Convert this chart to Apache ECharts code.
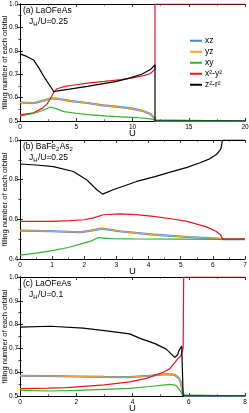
<!DOCTYPE html>
<html>
<head>
<meta charset="utf-8">
<script src="https://cdn.jsdelivr.net/npm/echarts@6/dist/echarts.min.js"></script>
<style>html,body{margin:0;padding:0;background:#fff}#c{width:249px;height:413px}</style>
</head>
<body>
<div id="c"></div>
<script>
// ---------- data (U, filling) ----------
const names = ['xz', 'yz', 'xy', 'x²-y²', 'z²-r²'];
const colors = ['#3f86e6', '#f5a52e', '#2db52d', '#e3191c', '#000000'];

// panel (a) LaOFeAs, JH/U=0.25
const a_xz = [[0,0.579],[1.2,0.576],[2,0.586],[2.8,0.597],[3.2,0.596],[4.4,0.586],[6,0.577],[7.4,0.567],[9,0.559],[10,0.553],[11,0.542],[11.6,0.53],[12,0.51],[12,0.5],[20,0.5]];
const a_yz = [[0,0.579],[1.2,0.576],[2,0.586],[2.8,0.597],[3.2,0.596],[4.4,0.586],[6,0.577],[7.4,0.567],[9,0.559],[10,0.553],[11,0.542],[11.6,0.53],[12,0.51],[12,0.5],[20,0.5]];
const a_xy = [[0,0.522],[1.2,0.532],[2,0.545],[2.7,0.56],[3.2,0.553],[3.9,0.54],[5,0.533],[6,0.527],[7.5,0.522],[9,0.518],[10.5,0.514],[11.6,0.509],[12,0.505],[12,0.5],[20,0.5]];
const a_x2y2 = [[0,0.526],[1.2,0.535],[2,0.555],[2.4,0.572],[2.7,0.595],[3,0.622],[3.3,0.638],[4,0.648],[5,0.655],[6,0.662],[7.5,0.669],[9,0.677],[10,0.684],[11,0.694],[11.6,0.703],[12,0.722],[12,1.0],[20,1.0]];
const a_z2r2 = [[0,0.787],[0.6,0.776],[1.2,0.761],[1.7,0.725],[2.2,0.684],[2.6,0.655],[3,0.626],[3.5,0.63],[4.4,0.636],[6,0.648],[7.4,0.66],[8.5,0.668],[9.8,0.684],[10.8,0.7],[11.6,0.72],[12,0.74],[12,0.5],[20,0.5]];

// panel (b) BaFe2As2, JH/U=0.25
const b_xz = [[0,0.543],[1,0.54],[1.87,0.535],[2.2,0.543],[2.55,0.553],[3.1,0.54],[4.15,0.523],[5.2,0.511],[6,0.504],[6.3,0.5],[7,0.5]];
const b_yz = [[0,0.543],[1,0.54],[1.87,0.535],[2.2,0.543],[2.55,0.553],[3.1,0.54],[4.15,0.523],[5.2,0.511],[6,0.504],[6.3,0.5],[7,0.5]];
const b_xy = [[0,0.42],[0.5,0.43],[1,0.442],[1.5,0.458],[1.87,0.475],[2.2,0.49],[2.44,0.508],[2.8,0.503],[3.5,0.501],[5,0.5],[6.3,0.499],[7,0.5]];
const b_x2y2 = [[0,0.59],[1,0.59],[1.56,0.593],[2,0.598],[2.28,0.607],[2.6,0.623],[3.1,0.628],[3.6,0.624],[4.15,0.615],[4.7,0.603],[5.2,0.59],[5.8,0.562],[6.1,0.54],[6.25,0.52],[6.3,0.5],[7,0.5]];
const b_z2r2 = [[0,0.879],[0.5,0.874],[1.04,0.866],[1.66,0.841],[2.07,0.8],[2.39,0.749],[2.57,0.727],[2.9,0.749],[3.63,0.791],[4.2,0.815],[4.67,0.838],[5.2,0.862],[5.6,0.885],[5.9,0.905],[6.12,0.928],[6.25,0.955],[6.3,1.0],[7,1.0]];

// panel (c) LaOFeAs, JH/U=0.1
const c_xz = [[0,0.585],[1,0.584],[2,0.582],[3,0.58],[3.9,0.579],[4.6,0.585],[5.2,0.592],[5.5,0.589],[5.65,0.575],[5.72,0.556],[5.8,0.51],[5.85,0.5],[8,0.5]];
const c_yz = [[0,0.585],[1,0.584],[2,0.582],[3,0.58],[3.9,0.579],[4.6,0.585],[5.2,0.592],[5.5,0.589],[5.65,0.575],[5.72,0.556],[5.8,0.51],[5.85,0.5],[8,0.5]];
const c_xy = [[0,0.524],[1.07,0.521],[2,0.524],[3,0.528],[3.9,0.532],[4.6,0.54],[5.33,0.549],[5.55,0.545],[5.68,0.525],[5.78,0.505],[5.85,0.5],[8,0.5]];
const c_x2y2 = [[0,0.531],[1,0.533],[1.66,0.535],[3,0.547],[3.9,0.559],[4.5,0.574],[4.86,0.59],[5.1,0.6],[5.33,0.615],[5.5,0.64],[5.6,0.655],[5.72,0.669],[5.8,0.7],[5.82,1.0],[8,1.0]];
const c_z2r2 = [[0,0.789],[1.07,0.793],[2.25,0.785],[3,0.775],[3.9,0.761],[4.27,0.742],[4.8,0.72],[5.2,0.697],[5.5,0.662],[5.6,0.672],[5.65,0.69],[5.75,0.71],[5.8,0.5],[8,0.5]];

// axes ranges / ticks
const xRanges = [[0,20,5,2],[0,7,1,2],[0,8,2,2]];
const yRanges = [[0.5,1.0,0.1,2],[0.4,1.0,0.2,2],[0.5,1.0,0.1,2]];
const panelData = [
  [a_xz,a_yz,a_xy,a_x2y2,a_z2r2],
  [b_xz,b_yz,b_xy,b_x2y2,b_z2r2],
  [c_xz,c_yz,c_xy,c_x2y2,c_z2r2]
];
// title pieces: [text, isSubscript]
const panelTitles = [
  [['(a) LaOFeAs',0]],
  [['(b) BaFe',0],['2',1],['As',0],['2',1]],
  [['(c) LaOFeAs',0]]
];
const panelJ = [
  [['J',0],['H',1],['/U=0.25',0]],
  [['J',0],['H',1],['/U=0.25',0]],
  [['J',0],['H',1],['/U=0.1',0]]
];

// ---------- layout ----------
const FONT = '"Liberation Sans", Arial, sans-serif';
const BIG = 8.5, SMALL = 6;
const grids = [
  {left:20, right:4, top:4, height:117, containLabel:false, outerBoundsMode:'none'},
  {left:20, right:4, top:140, height:119, containLabel:false, outerBoundsMode:'none'},
  {left:20, right:4, top:277, height:119, containLabel:false, outerBoundsMode:'none'}
];
const xAxes = [], yAxes = [], series = [];
grids.forEach((g,i) => {
  const [xmin,xmax,xint,xminor] = xRanges[i];
  const [ymin,ymax,yint,yminor] = yRanges[i];
  const tick = {show:true, inside:true, length:3, lineStyle:{color:'#000', width:0.8}};
  const mtick = {show:true, splitNumber:xminor, length:1.8, lineStyle:{color:'#000', width:0.6}};
  const line = {show:true, lineStyle:{color:'#000', width:1}};
  xAxes.push({type:'value', gridIndex:i, min:xmin, max:xmax, interval:xint, position:'bottom',
    axisLine:line, axisTick:tick, minorTick:mtick, splitLine:{show:false},
    axisLabel:{fontSize:6.5, color:'#000', margin:3, fontFamily:FONT, showMinLabel:true, showMaxLabel:true, hideOverlap:false},
    name:'U', nameLocation:'middle', nameGap:7.5, nameMoveOverlap:false,
    nameTextStyle:{fontSize:9.5, color:'#000', fontFamily:FONT}});
  xAxes.push({type:'value', gridIndex:i, min:xmin, max:xmax, interval:xint, position:'top',
    axisLine:line, axisTick:tick, minorTick:mtick, splitLine:{show:false}, axisLabel:{show:false}});
  const ymtick = {show:true, splitNumber:yminor, length:1.8, lineStyle:{color:'#000', width:0.6}};
  yAxes.push({type:'value', gridIndex:i, min:ymin, max:ymax, interval:yint, position:'left',
    axisLine:line, axisTick:tick, minorTick:ymtick, splitLine:{show:false},
    axisLabel:{fontSize:6.5, color:'#000', margin:2, fontFamily:FONT, showMinLabel:true, showMaxLabel:true, hideOverlap:false,
      formatter:v=>v.toFixed(1)},
    name:'filling number of each orbital', nameLocation:'middle', nameGap:11.5, nameMoveOverlap:false,
    nameTextStyle:{fontSize:7.5, color:'#000', fontFamily:FONT}});
  yAxes.push({type:'value', gridIndex:i, min:ymin, max:ymax, interval:yint, position:'right',
    axisLine:line, axisTick:tick, minorTick:ymtick, splitLine:{show:false}, axisLabel:{show:false}});
  panelData[i].forEach((d,k) => {
    series.push({
      type:'line', name:names[k], xAxisIndex:2*i, yAxisIndex:2*i, data:d,
      showSymbol:false, symbol:'none', smooth:false, animation:false,
      color:colors[k],
      itemStyle:{color:colors[k]},
      lineStyle:{color:colors[k], width:k===0?2.2:1.2},
      z: 2 + k
    });
  });
});

// measure text widths for subscript placement
const mctx = document.createElement('canvas').getContext('2d');
function tw(s, size){ mctx.font = size + 'px ' + FONT; return mctx.measureText(s).width; }
function pieces(x, y, parts, out){
  let cx = x;
  parts.forEach(([s, isSub]) => {
    const size = isSub ? SMALL : BIG;
    out.push({type:'text', x:cx, y: isSub ? y + 4.2 : y, z:100, silent:true,
      style:{text:s, font:size+'px '+FONT, fill:'#000', textVerticalAlign:'top', verticalAlign:'top', align:'left'}});
    cx += tw(s, size) + (isSub ? 0.3 : 0);
  });
}
const graphics = [];
grids.forEach((g,i) => {
  const y0 = g.top + 2.5;
  pieces(23, y0, panelTitles[i], graphics);
  pieces(29, y0 + 11, panelJ[i], graphics);
});

const chart = echarts.init(document.getElementById('c'), null, {renderer:'canvas'});
chart.setOption({
  animation:false,
  backgroundColor:'#fff',
  grid:grids,
  xAxis:xAxes,
  yAxis:yAxes,
  series:series,
  legend:{
    data:names, orient:'vertical', left:185, top:31,
    icon:'rect', itemWidth:12, itemHeight:2, itemGap:1.5,
    selectedMode:false,
    textStyle:{fontSize:8.5, color:'#000', fontFamily:FONT, padding:[0,0,0,-2], lineHeight:9.5}
  },
  graphic:graphics
});
</script>
</body>
</html>
